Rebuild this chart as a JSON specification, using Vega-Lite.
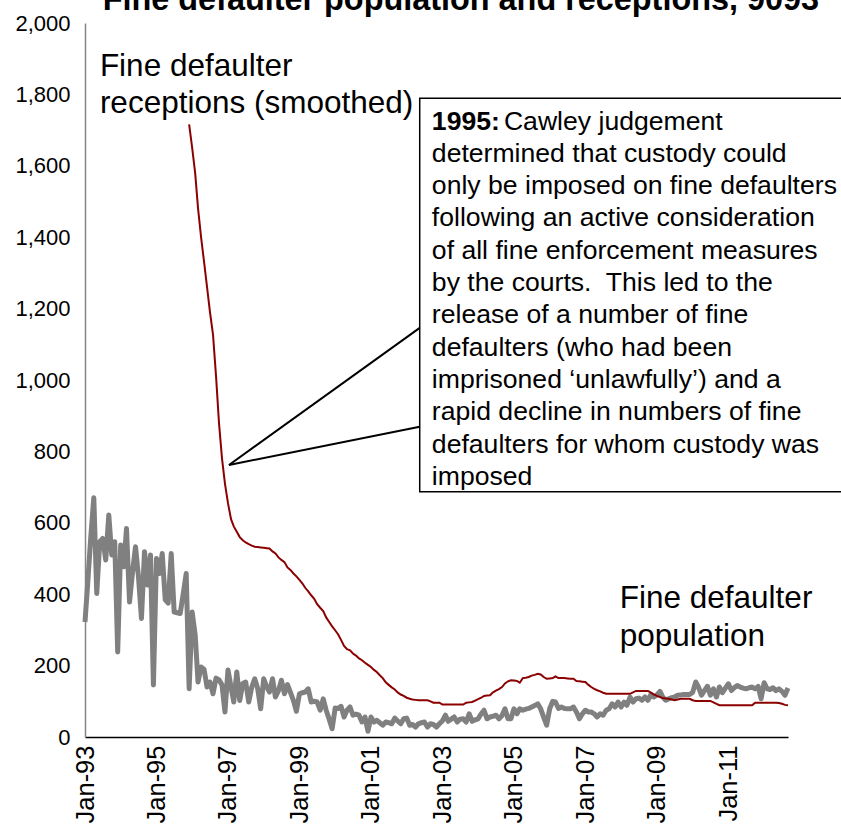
{
  "$schema": "https://vega.github.io/schema/vega-lite/v6.json",
  "width": 703,
  "height": 714,
  "autosize": {"type": "none"},
  "padding": {"left": 85, "top": 23, "right": 53, "bottom": 95},
  "background": "white",
  "config": {"view": {"stroke": null}, "font": "Liberation Sans", "text": {"font": "Liberation Sans"}},
  "datasets": {
    "pop": [
      {"d":"1993-01-01","v":322},{"d":"1993-02-01","v":444},{"d":"1993-03-01","v":560},{"d":"1993-04-01","v":670},{"d":"1993-05-01","v":402},{"d":"1993-06-01","v":547},{"d":"1993-07-01","v":556},{"d":"1993-08-01","v":496},{"d":"1993-09-01","v":622},{"d":"1993-10-01","v":510},{"d":"1993-11-01","v":547},{"d":"1993-12-01","v":238},
      {"d":"1994-01-01","v":538},{"d":"1994-02-01","v":477},{"d":"1994-03-01","v":584},{"d":"1994-04-01","v":378},{"d":"1994-05-01","v":460},{"d":"1994-06-01","v":533},{"d":"1994-07-01","v":450},{"d":"1994-08-01","v":332},{"d":"1994-09-01","v":519},{"d":"1994-10-01","v":426},{"d":"1994-11-01","v":510},{"d":"1994-12-01","v":146},
      {"d":"1995-01-01","v":500},{"d":"1995-02-01","v":458},{"d":"1995-03-01","v":514},{"d":"1995-04-01","v":384},{"d":"1995-05-01","v":375},{"d":"1995-06-01","v":514},{"d":"1995-07-01","v":350},{"d":"1995-08-01","v":348},{"d":"1995-09-01","v":346},{"d":"1995-10-01","v":400},{"d":"1995-11-01","v":458},{"d":"1995-12-01","v":135},
      {"d":"1996-01-01","v":350},{"d":"1996-02-01","v":285},{"d":"1996-03-01","v":154},{"d":"1996-04-01","v":196},{"d":"1996-05-01","v":190},{"d":"1996-06-01","v":140},{"d":"1996-07-01","v":154},{"d":"1996-08-01","v":121},{"d":"1996-09-01","v":165},{"d":"1996-10-01","v":160},{"d":"1996-11-01","v":146},{"d":"1996-12-01","v":70},
      {"d":"1997-01-01","v":188},{"d":"1997-02-01","v":140},{"d":"1997-03-01","v":98},{"d":"1997-04-01","v":182},{"d":"1997-05-01","v":102},{"d":"1997-06-01","v":150},{"d":"1997-07-01","v":154},{"d":"1997-08-01","v":98},{"d":"1997-09-01","v":140},{"d":"1997-10-01","v":163},{"d":"1997-11-01","v":135},{"d":"1997-12-01","v":79},
      {"d":"1998-01-01","v":163},{"d":"1998-02-01","v":140},{"d":"1998-03-01","v":126},{"d":"1998-04-01","v":163},{"d":"1998-05-01","v":112},{"d":"1998-06-01","v":130},{"d":"1998-07-01","v":159},{"d":"1998-08-01","v":121},{"d":"1998-09-01","v":147},{"d":"1998-10-01","v":125},{"d":"1998-11-01","v":102},{"d":"1998-12-01","v":72},
      {"d":"1999-01-01","v":121},{"d":"1999-02-01","v":124},{"d":"1999-03-01","v":126},{"d":"1999-04-01","v":135},{"d":"1999-05-01","v":98},{"d":"1999-06-01","v":100},{"d":"1999-07-01","v":98},{"d":"1999-08-01","v":75},{"d":"1999-09-01","v":107},{"d":"1999-10-01","v":75},{"d":"1999-11-01","v":50},{"d":"1999-12-01","v":23},
      {"d":"2000-01-01","v":81},{"d":"2000-02-01","v":80},{"d":"2000-03-01","v":86},{"d":"2000-04-01","v":56},{"d":"2000-05-01","v":75},{"d":"2000-06-01","v":84},{"d":"2000-07-01","v":61},{"d":"2000-08-01","v":64},{"d":"2000-09-01","v":61},{"d":"2000-10-01","v":42},{"d":"2000-11-01","v":56},{"d":"2000-12-01","v":16},
      {"d":"2001-01-01","v":56},{"d":"2001-02-01","v":42},{"d":"2001-03-01","v":47},{"d":"2001-04-01","v":40},{"d":"2001-05-01","v":33},{"d":"2001-06-01","v":42},{"d":"2001-07-01","v":40},{"d":"2001-08-01","v":37},{"d":"2001-09-01","v":53},{"d":"2001-10-01","v":45},{"d":"2001-11-01","v":37},{"d":"2001-12-01","v":51},
      {"d":"2002-01-01","v":53},{"d":"2002-02-01","v":33},{"d":"2002-03-01","v":35},{"d":"2002-04-01","v":28},{"d":"2002-05-01","v":37},{"d":"2002-06-01","v":40},{"d":"2002-07-01","v":42},{"d":"2002-08-01","v":28},{"d":"2002-09-01","v":37},{"d":"2002-10-01","v":35},{"d":"2002-11-01","v":28},{"d":"2002-12-01","v":37},
      {"d":"2003-01-01","v":45},{"d":"2003-02-01","v":61},{"d":"2003-03-01","v":44},{"d":"2003-04-01","v":50},{"d":"2003-05-01","v":56},{"d":"2003-06-01","v":42},{"d":"2003-07-01","v":50},{"d":"2003-08-01","v":51},{"d":"2003-09-01","v":42},{"d":"2003-10-01","v":65},{"d":"2003-11-01","v":44},{"d":"2003-12-01","v":48},
      {"d":"2004-01-01","v":51},{"d":"2004-02-01","v":65},{"d":"2004-03-01","v":75},{"d":"2004-04-01","v":51},{"d":"2004-05-01","v":56},{"d":"2004-06-01","v":58},{"d":"2004-07-01","v":61},{"d":"2004-08-01","v":51},{"d":"2004-09-01","v":60},{"d":"2004-10-01","v":79},{"d":"2004-11-01","v":51},{"d":"2004-12-01","v":51},
      {"d":"2005-01-01","v":79},{"d":"2005-02-01","v":65},{"d":"2005-03-01","v":79},{"d":"2005-04-01","v":75},{"d":"2005-05-01","v":78},{"d":"2005-06-01","v":80},{"d":"2005-07-01","v":84},{"d":"2005-08-01","v":88},{"d":"2005-09-01","v":93},{"d":"2005-10-01","v":79},{"d":"2005-11-01","v":55},{"d":"2005-12-01","v":33},
      {"d":"2006-01-01","v":79},{"d":"2006-02-01","v":100},{"d":"2006-03-01","v":98},{"d":"2006-04-01","v":80},{"d":"2006-05-01","v":84},{"d":"2006-06-01","v":80},{"d":"2006-07-01","v":79},{"d":"2006-08-01","v":79},{"d":"2006-09-01","v":84},{"d":"2006-10-01","v":70},{"d":"2006-11-01","v":51},{"d":"2006-12-01","v":65},
      {"d":"2007-01-01","v":75},{"d":"2007-02-01","v":70},{"d":"2007-03-01","v":70},{"d":"2007-04-01","v":65},{"d":"2007-05-01","v":56},{"d":"2007-06-01","v":65},{"d":"2007-07-01","v":61},{"d":"2007-08-01","v":75},{"d":"2007-09-01","v":79},{"d":"2007-10-01","v":93},{"d":"2007-11-01","v":84},{"d":"2007-12-01","v":98},
      {"d":"2008-01-01","v":84},{"d":"2008-02-01","v":98},{"d":"2008-03-01","v":89},{"d":"2008-04-01","v":112},{"d":"2008-05-01","v":98},{"d":"2008-06-01","v":107},{"d":"2008-07-01","v":109},{"d":"2008-08-01","v":103},{"d":"2008-09-01","v":112},{"d":"2008-10-01","v":103},{"d":"2008-11-01","v":119},{"d":"2008-12-01","v":112},
      {"d":"2009-01-01","v":118},{"d":"2009-02-01","v":128},{"d":"2009-03-01","v":112},{"d":"2009-04-01","v":103},{"d":"2009-05-01","v":107},{"d":"2009-06-01","v":110},{"d":"2009-07-01","v":112},{"d":"2009-08-01","v":117},{"d":"2009-09-01","v":118},{"d":"2009-10-01","v":119},{"d":"2009-11-01","v":119},{"d":"2009-12-01","v":119},
      {"d":"2010-01-01","v":125},{"d":"2010-02-01","v":154},{"d":"2010-03-01","v":140},{"d":"2010-04-01","v":117},{"d":"2010-05-01","v":130},{"d":"2010-06-01","v":142},{"d":"2010-07-01","v":117},{"d":"2010-08-01","v":135},{"d":"2010-09-01","v":112},{"d":"2010-10-01","v":140},{"d":"2010-11-01","v":124},{"d":"2010-12-01","v":137},
      {"d":"2011-01-01","v":149},{"d":"2011-02-01","v":130},{"d":"2011-03-01","v":138},{"d":"2011-04-01","v":144},{"d":"2011-05-01","v":140},{"d":"2011-06-01","v":137},{"d":"2011-07-01","v":135},{"d":"2011-08-01","v":138},{"d":"2011-09-01","v":140},{"d":"2011-10-01","v":135},{"d":"2011-11-01","v":142},{"d":"2011-12-01","v":107},
      {"d":"2012-01-01","v":152},{"d":"2012-02-01","v":135},{"d":"2012-03-01","v":133},{"d":"2012-04-01","v":138},{"d":"2012-05-01","v":130},{"d":"2012-06-01","v":135},{"d":"2012-07-01","v":128},{"d":"2012-08-01","v":117},{"d":"2012-09-01","v":137}
    ],
    "rec": [
      {"d":"1995-12-01","v":1716},
      {"d":"1996-01-01","v":1650},{"d":"1996-02-01","v":1579},{"d":"1996-03-01","v":1481},{"d":"1996-04-01","v":1400},{"d":"1996-05-01","v":1332},{"d":"1996-06-01","v":1260},{"d":"1996-07-01","v":1190},{"d":"1996-08-01","v":1127},{"d":"1996-09-01","v":1010},{"d":"1996-10-01","v":880},{"d":"1996-11-01","v":780},{"d":"1996-12-01","v":710},
      {"d":"1997-01-01","v":655},{"d":"1997-02-01","v":610},{"d":"1997-03-01","v":590},{"d":"1997-04-01","v":575},{"d":"1997-05-01","v":560},{"d":"1997-06-01","v":551},{"d":"1997-07-01","v":545},{"d":"1997-08-01","v":540},{"d":"1997-09-01","v":536},{"d":"1997-10-01","v":533},{"d":"1997-11-01","v":532},{"d":"1997-12-01","v":531},
      {"d":"1998-01-01","v":530},{"d":"1998-02-01","v":529},{"d":"1998-03-01","v":528},{"d":"1998-04-01","v":520},{"d":"1998-05-01","v":514},{"d":"1998-06-01","v":503},{"d":"1998-07-01","v":496},{"d":"1998-08-01","v":490},{"d":"1998-09-01","v":475},{"d":"1998-10-01","v":468},{"d":"1998-11-01","v":458},{"d":"1998-12-01","v":450},
      {"d":"1999-01-01","v":440},{"d":"1999-02-01","v":430},{"d":"1999-03-01","v":418},{"d":"1999-04-01","v":408},{"d":"1999-05-01","v":397},{"d":"1999-06-01","v":387},{"d":"1999-07-01","v":372},{"d":"1999-08-01","v":362},{"d":"1999-09-01","v":353},{"d":"1999-10-01","v":335},{"d":"1999-11-01","v":322},{"d":"1999-12-01","v":310},
      {"d":"2000-01-01","v":299},{"d":"2000-02-01","v":287},{"d":"2000-03-01","v":272},{"d":"2000-04-01","v":255},{"d":"2000-05-01","v":246},{"d":"2000-06-01","v":243},{"d":"2000-07-01","v":234},{"d":"2000-08-01","v":228},{"d":"2000-09-01","v":220},{"d":"2000-10-01","v":215},{"d":"2000-11-01","v":208},{"d":"2000-12-01","v":202},
      {"d":"2001-01-01","v":196},{"d":"2001-02-01","v":188},{"d":"2001-03-01","v":182},{"d":"2001-04-01","v":173},{"d":"2001-05-01","v":165},{"d":"2001-06-01","v":153},{"d":"2001-07-01","v":146},{"d":"2001-08-01","v":139},{"d":"2001-09-01","v":133},{"d":"2001-10-01","v":125},{"d":"2001-11-01","v":119},{"d":"2001-12-01","v":115},
      {"d":"2002-01-01","v":110},{"d":"2002-02-01","v":107},{"d":"2002-03-01","v":105},{"d":"2002-04-01","v":104},{"d":"2002-05-01","v":103},{"d":"2002-06-01","v":103},{"d":"2002-07-01","v":103},{"d":"2002-08-01","v":103},{"d":"2002-09-01","v":100},{"d":"2002-10-01","v":96},{"d":"2002-11-01","v":96},{"d":"2002-12-01","v":96},
      {"d":"2003-01-01","v":91},{"d":"2003-02-01","v":91},{"d":"2003-03-01","v":91},{"d":"2003-04-01","v":91},{"d":"2003-05-01","v":91},{"d":"2003-06-01","v":91},{"d":"2003-07-01","v":91},{"d":"2003-08-01","v":91},{"d":"2003-09-01","v":96},{"d":"2003-10-01","v":97},{"d":"2003-11-01","v":98},{"d":"2003-12-01","v":102},
      {"d":"2004-01-01","v":106},{"d":"2004-02-01","v":110},{"d":"2004-03-01","v":115},{"d":"2004-04-01","v":116},{"d":"2004-05-01","v":117},{"d":"2004-06-01","v":125},{"d":"2004-07-01","v":130},{"d":"2004-08-01","v":134},{"d":"2004-09-01","v":140},{"d":"2004-10-01","v":150},{"d":"2004-11-01","v":156},{"d":"2004-12-01","v":159},
      {"d":"2005-01-01","v":158},{"d":"2005-02-01","v":157},{"d":"2005-03-01","v":152},{"d":"2005-04-01","v":165},{"d":"2005-05-01","v":166},{"d":"2005-06-01","v":168},{"d":"2005-07-01","v":172},{"d":"2005-08-01","v":174},{"d":"2005-09-01","v":177},{"d":"2005-10-01","v":175},{"d":"2005-11-01","v":168},{"d":"2005-12-01","v":163},
      {"d":"2006-01-01","v":164},{"d":"2006-02-01","v":165},{"d":"2006-03-01","v":170},{"d":"2006-04-01","v":165},{"d":"2006-05-01","v":165},{"d":"2006-06-01","v":165},{"d":"2006-07-01","v":164},{"d":"2006-08-01","v":163},{"d":"2006-09-01","v":163},{"d":"2006-10-01","v":157},{"d":"2006-11-01","v":156},{"d":"2006-12-01","v":155},
      {"d":"2007-01-01","v":154},{"d":"2007-02-01","v":146},{"d":"2007-03-01","v":140},{"d":"2007-04-01","v":135},{"d":"2007-05-01","v":131},{"d":"2007-06-01","v":128},{"d":"2007-07-01","v":124},{"d":"2007-08-01","v":121},{"d":"2007-09-01","v":121},{"d":"2007-10-01","v":121},{"d":"2007-11-01","v":121},{"d":"2007-12-01","v":121},
      {"d":"2008-01-01","v":121},{"d":"2008-02-01","v":121},{"d":"2008-03-01","v":121},{"d":"2008-04-01","v":121},{"d":"2008-05-01","v":125},{"d":"2008-06-01","v":129},{"d":"2008-07-01","v":129},{"d":"2008-08-01","v":129},{"d":"2008-09-01","v":129},{"d":"2008-10-01","v":129},{"d":"2008-11-01","v":124},{"d":"2008-12-01","v":119},
      {"d":"2009-01-01","v":115},{"d":"2009-02-01","v":112},{"d":"2009-03-01","v":109},{"d":"2009-04-01","v":108},{"d":"2009-05-01","v":107},{"d":"2009-06-01","v":105},{"d":"2009-07-01","v":103},{"d":"2009-08-01","v":105},{"d":"2009-09-01","v":107},{"d":"2009-10-01","v":107},{"d":"2009-11-01","v":107},{"d":"2009-12-01","v":107},
      {"d":"2010-01-01","v":103},{"d":"2010-02-01","v":101},{"d":"2010-03-01","v":101},{"d":"2010-04-01","v":101},{"d":"2010-05-01","v":101},{"d":"2010-06-01","v":101},{"d":"2010-07-01","v":101},{"d":"2010-08-01","v":97},{"d":"2010-09-01","v":93},{"d":"2010-10-01","v":89},{"d":"2010-11-01","v":89},{"d":"2010-12-01","v":89},
      {"d":"2011-01-01","v":89},{"d":"2011-02-01","v":89},{"d":"2011-03-01","v":89},{"d":"2011-04-01","v":89},{"d":"2011-05-01","v":89},{"d":"2011-06-01","v":89},{"d":"2011-07-01","v":89},{"d":"2011-08-01","v":89},{"d":"2011-09-01","v":89},{"d":"2011-10-01","v":96},{"d":"2011-11-01","v":96},{"d":"2011-12-01","v":96},
      {"d":"2012-01-01","v":96},{"d":"2012-02-01","v":96},{"d":"2012-03-01","v":96},{"d":"2012-04-01","v":96},{"d":"2012-05-01","v":96},{"d":"2012-06-01","v":95},{"d":"2012-07-01","v":93},{"d":"2012-08-01","v":90},{"d":"2012-09-01","v":89}
    ],
    "box": [{"x1":"2002-05-14","x2":"2016-06-01","y1":1789,"y2":687}],
    "pointer": [
      {"x1":"1997-01-11","y1":762,"x2":"2002-05-14","y2":1146},
      {"x1":"1997-01-11","y1":762,"x2":"2002-05-14","y2":869}
    ],
    "boxtext": [
      {"x":"2004-09-20","y":1724,"t":"Cawley judgement"},
      {"x":"2002-09-15","y":1634,"t":"determined that custody could"},
      {"x":"2002-09-15","y":1543,"t":"only be imposed on fine defaulters"},
      {"x":"2002-09-15","y":1453,"t":"following an active consideration"},
      {"x":"2002-09-15","y":1362,"t":"of all fine enforcement measures"},
      {"x":"2002-09-15","y":1272,"t":"by the courts.\u00a0 This led to the"},
      {"x":"2002-09-15","y":1181,"t":"release of a number of fine"},
      {"x":"2002-09-15","y":1091,"t":"defaulters (who had been"},
      {"x":"2002-09-15","y":1000,"t":"imprisoned ‘unlawfully’) and a"},
      {"x":"2002-09-15","y":910,"t":"rapid decline in numbers of fine"},
      {"x":"2002-09-15","y":819,"t":"defaulters for whom custody was"},
      {"x":"2002-09-15","y":729,"t":"imposed"}
    ],
    "boldtext": [{"x":"2002-09-15","y":1724,"t":"1995:"}],
    "title": [{"x":"1993-07-01","y":2036,"t":"Fine defaulter population and receptions, 9093"}],
    "labels": [
      {"x":"1993-06-02","y":1878,"t":"Fine defaulter"},
      {"x":"1993-06-02","y":1772,"t":"receptions (smoothed)"},
      {"x":"2007-12-18","y":387,"t":"Fine defaulter"},
      {"x":"2007-12-18","y":280,"t":"population"}
    ]
  },
  "layer": [
    {
      "data": {"name": "pop"},
      "mark": {"type": "line", "color": "#808080", "strokeWidth": 5, "strokeJoin": "round"},
      "encoding": {
        "x": {"field": "d", "type": "temporal",
          "scale": {"type": "utc", "domain": [{"year": 1993, "month": 1, "date": 1, "utc": true}, {"year": 2012, "month": 9, "date": 1, "utc": true}]},
          "axis": {"title": null, "grid": false, "ticks": false, "format": "%b-%y", "labelAngle": -90, "labelFontSize": 25.5, "labelFont": "Liberation Sans", "labelColor": "black", "labelPadding": 8, "domainColor": "black", "domainWidth": 1.5,
            "values": [{"year":1993,"month":1,"date":1,"utc":true},{"year":1995,"month":1,"date":1,"utc":true},{"year":1997,"month":1,"date":1,"utc":true},{"year":1999,"month":1,"date":1,"utc":true},{"year":2001,"month":1,"date":1,"utc":true},{"year":2003,"month":1,"date":1,"utc":true},{"year":2005,"month":1,"date":1,"utc":true},{"year":2007,"month":1,"date":1,"utc":true},{"year":2009,"month":1,"date":1,"utc":true},{"year":2011,"month":1,"date":1,"utc":true}]}},
        "y": {"field": "v", "type": "quantitative",
          "scale": {"domain": [0, 2000], "nice": false},
          "axis": {"title": null, "grid": false, "ticks": false, "values": [0,200,400,600,800,1000,1200,1400,1600,1800,2000], "format": ",.0f", "labelFontSize": 22, "labelFont": "Liberation Sans", "labelColor": "black", "labelPadding": 15, "domainColor": "#868686", "domainWidth": 1.5}}
      }
    },
    {
      "data": {"name": "rec"},
      "mark": {"type": "line", "color": "#8B0000", "strokeWidth": 2},
      "encoding": {
        "x": {"field": "d", "type": "temporal"},
        "y": {"field": "v", "type": "quantitative"}
      }
    },
    {
      "data": {"name": "box"},
      "mark": {"type": "rect", "fill": "white", "stroke": "black", "strokeWidth": 1.5},
      "encoding": {
        "x": {"field": "x1", "type": "temporal"},
        "x2": {"field": "x2"},
        "y": {"field": "y1", "type": "quantitative"},
        "y2": {"field": "y2"}
      }
    },
    {
      "data": {"name": "pointer"},
      "mark": {"type": "rule", "color": "black", "strokeWidth": 2},
      "encoding": {
        "x": {"field": "x1", "type": "temporal"},
        "x2": {"field": "x2"},
        "y": {"field": "y1", "type": "quantitative"},
        "y2": {"field": "y2"}
      }
    },
    {
      "data": {"name": "boxtext"},
      "mark": {"type": "text", "align": "left", "baseline": "middle", "fontSize": 26.6, "color": "black", "font": "Liberation Sans"},
      "encoding": {
        "x": {"field": "x", "type": "temporal"},
        "y": {"field": "y", "type": "quantitative"},
        "text": {"field": "t"}
      }
    },
    {
      "data": {"name": "boldtext"},
      "mark": {"type": "text", "align": "left", "baseline": "middle", "fontSize": 26.6, "fontWeight": "bold", "color": "black", "font": "Liberation Sans"},
      "encoding": {
        "x": {"field": "x", "type": "temporal"},
        "y": {"field": "y", "type": "quantitative"},
        "text": {"field": "t"}
      }
    },
    {
      "data": {"name": "title"},
      "mark": {"type": "text", "align": "left", "baseline": "alphabetic", "fontSize": 32.4, "fontWeight": "bold", "color": "black", "font": "Liberation Sans"},
      "encoding": {
        "x": {"field": "x", "type": "temporal"},
        "y": {"field": "y", "type": "quantitative"},
        "text": {"field": "t"}
      }
    },
    {
      "data": {"name": "labels"},
      "mark": {"type": "text", "align": "left", "baseline": "middle", "fontSize": 31.5, "color": "black", "font": "Liberation Sans"},
      "encoding": {
        "x": {"field": "x", "type": "temporal"},
        "y": {"field": "y", "type": "quantitative"},
        "text": {"field": "t"}
      }
    }
  ]
}
